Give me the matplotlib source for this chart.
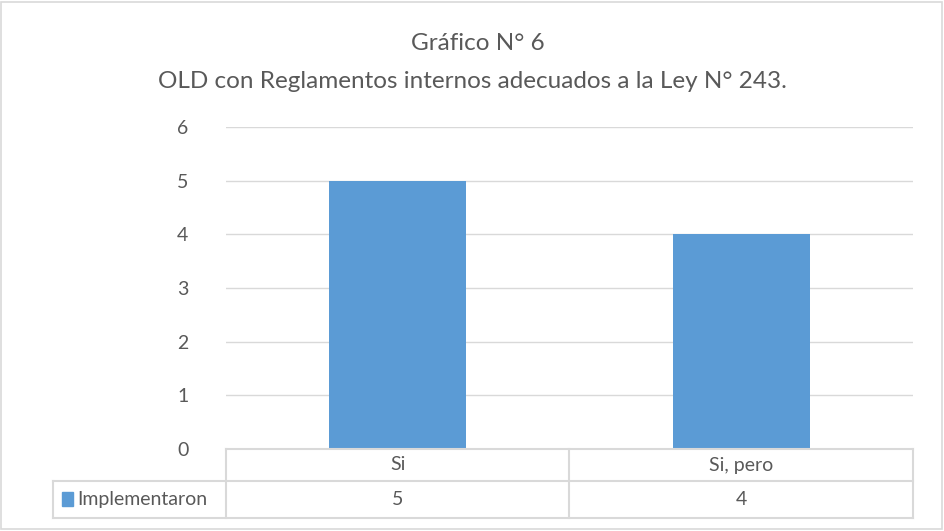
import matplotlib.pyplot as plt
from matplotlib.lines import Line2D
from matplotlib.patches import Rectangle

categories = ['Si', 'Si, pero']
implementaron = [5, 4]
series_name = 'Implementaron'
title_lines = ['Gráfico N° 6', 'OLD con Reglamentos internos adecuados a la Ley N° 243.']

bar_color = '#5b9bd5'
text_color = '#595959'
grid_color = '#d9d9d9'

plt.rcParams['font.family'] = ['Lato', 'DejaVu Sans']

W, H = 945, 531
fig = plt.figure(figsize=(W / 100, H / 100), dpi=100)

def fx(px):
    return px / W

def fy(py):
    return 1 - py / H

# plot area in pixel terms
left, right, top, bottom = 226, 913, 127, 449
ax = fig.add_axes([fx(left), fy(bottom), fx(right - left), (bottom - top) / H])

x = list(range(len(categories)))
ax.bar(x, implementaron, width=0.4, color=bar_color, zorder=3)
ax.set_xlim(-0.5, len(categories) - 0.5)
ax.set_ylim(0, 6)
ax.set_yticks(range(0, 7))
ax.yaxis.grid(True, color=grid_color, linewidth=1)
ax.set_axisbelow(True)
ax.set_xticks([])
for s in ax.spines.values():
    s.set_visible(False)
ax.tick_params(axis='y', length=0, pad=27, labelsize=14, labelcolor=text_color)

# title
fig.text(0.506, fy(43), title_lines[0], ha='center', va='center', fontsize=17.5, color=text_color)
fig.text(0.5, fy(81), title_lines[1], ha='center', va='center', fontsize=17.5, color=text_color)

# data table
tbl_left = 53
row1, row2, row3 = 449, 481, 518
mid = (left + right) / 2
lines = [
    ((left, right), (row1, row1)),
    ((tbl_left, right), (row2, row2)),
    ((tbl_left, right), (row3, row3)),
    ((left, left), (row1, row3)),
    ((mid, mid), (row1, row3)),
    ((right, right), (row1, row3)),
    ((tbl_left, tbl_left), (row2, row3)),
]
for (xa, xb), (ya, yb) in lines:
    fig.add_artist(Line2D([fx(xa), fx(xb)], [fy(ya), fy(yb)], color=grid_color, linewidth=1.5))

for i, cat in enumerate(categories):
    xc = ax.transData.transform((i, 0))[0] / W
    fig.text(xc, fy((row1 + row2) / 2), cat, ha='center', va='center', fontsize=14, color=text_color)
    fig.text(xc, fy((row2 + row3) / 2), str(implementaron[i]), ha='center', va='center',
             fontsize=14, color=text_color)

fig.add_artist(Rectangle((fx(62), fy(506)), fx(11), 14 / H, color=bar_color))
fig.text(fx(77), fy((row2 + row3) / 2), series_name, ha='left', va='center', fontsize=14, color=text_color)

# chart border
fig.add_artist(Rectangle((fx(1.5), fy(528.5)), fx(941), 527 / H, fill=False,
                         edgecolor=grid_color, linewidth=1.2))

fig.savefig('out.png', dpi=100)
